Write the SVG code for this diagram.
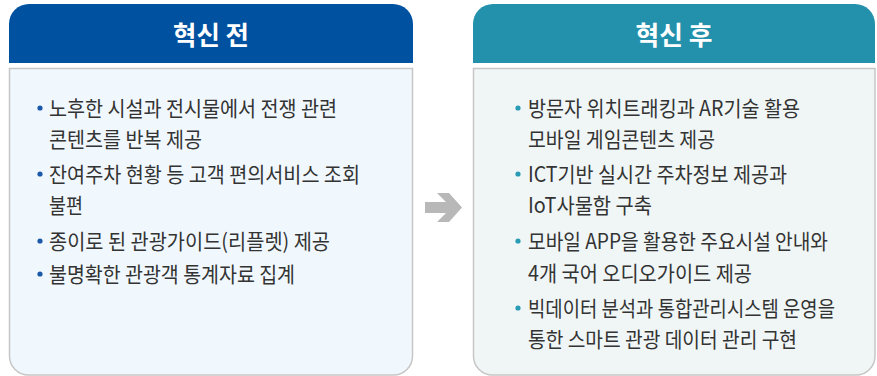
<svg xmlns="http://www.w3.org/2000/svg" width="877" height="376" viewBox="0 0 877 376">
<style>
.t{font-family:"Noto Sans CJK KR","Noto Sans",sans-serif;font-size:21px;fill:#333333}
.h{font-family:"Noto Sans CJK KR","Noto Sans",sans-serif;font-size:26px;font-weight:bold;fill:#ffffff}
.body{stroke:#c6c6c6;stroke-width:1.5}
</style>
<rect width="877" height="376" fill="#ffffff"/>
<g id="before">
<path d="M9,24 A20,20 0 0 1 29,4 H393 A20,20 0 0 1 413,24 V63 H9 Z" fill="#0052a0"/>
<text class="h" x="211" y="45" text-anchor="middle" textLength="76" lengthAdjust="spacingAndGlyphs">혁신 전</text>
<path class="body" d="M9.5,68.5 H412.5 V356 A19,19 0 0 1 393.5,375 H28.5 A19,19 0 0 1 9.5,356 Z" fill="#f1f8fd"/>
<g fill="#1a5aa8">
<circle cx="40" cy="108" r="2.6"/><circle cx="40" cy="174" r="2.6"/><circle cx="40" cy="241" r="2.6"/><circle cx="40" cy="274" r="2.6"/>
</g>
<text class="t" x="49" y="116" textLength="288" lengthAdjust="spacingAndGlyphs">노후한 시설과 전시물에서 전쟁 관련</text>
<text class="t" x="49" y="147" textLength="153" lengthAdjust="spacingAndGlyphs">콘텐츠를 반복 제공</text>
<text class="t" x="49" y="182" textLength="311" lengthAdjust="spacingAndGlyphs">잔여주차 현황 등 고객 편의서비스 조회</text>
<text class="t" x="49" y="213" textLength="34" lengthAdjust="spacingAndGlyphs">불편</text>
<text class="t" x="49" y="249" textLength="281" lengthAdjust="spacingAndGlyphs">종이로 된 관광가이드(리플렛) 제공</text>
<text class="t" x="49" y="282" textLength="246" lengthAdjust="spacingAndGlyphs">불명확한 관광객 통계자료 집계</text>
</g>
<g id="after">
<path d="M473,24 A20,20 0 0 1 493,4 H855 A20,20 0 0 1 875,24 V63 H473 Z" fill="#2391ab"/>
<text class="h" x="674" y="45" text-anchor="middle" textLength="77" lengthAdjust="spacingAndGlyphs">혁신 후</text>
<path class="body" d="M473.5,68.5 H875 V356 A19,19 0 0 1 856,375 H492.5 A19,19 0 0 1 473.5,356 Z" fill="#f0f6f6"/>
<g fill="#2a9bb5">
<circle cx="518" cy="108" r="2.6"/><circle cx="518" cy="174" r="2.6"/><circle cx="518" cy="241" r="2.6"/><circle cx="518" cy="308" r="2.6"/>
</g>
<text class="t" x="528" y="116" textLength="272" lengthAdjust="spacingAndGlyphs">방문자 위치트래킹과 AR기술 활용</text>
<text class="t" x="528" y="147" textLength="187" lengthAdjust="spacingAndGlyphs">모바일 게임콘텐츠 제공</text>
<text class="t" x="528" y="182" textLength="259" lengthAdjust="spacingAndGlyphs">ICT기반 실시간 주차정보 제공과</text>
<text class="t" x="528" y="213" textLength="124" lengthAdjust="spacingAndGlyphs">IoT사물함 구축</text>
<text class="t" x="528" y="249" textLength="300" lengthAdjust="spacingAndGlyphs">모바일 APP을 활용한 주요시설 안내와</text>
<text class="t" x="528" y="281" textLength="224" lengthAdjust="spacingAndGlyphs">4개 국어 오디오가이드 제공</text>
<text class="t" x="528" y="316" textLength="307" lengthAdjust="spacingAndGlyphs">빅데이터 분석과 통합관리시스템 운영을</text>
<text class="t" x="528" y="347" textLength="269" lengthAdjust="spacingAndGlyphs">통한 스마트 관광 데이터 관리 구현</text>
</g>
<g id="connectors">
<polygon points="425,202 446,202 437,193 449,193 462,207.5 449,222 437,222 446,213 425,213" fill="#b8b8b8"/>
</g>
</svg>
